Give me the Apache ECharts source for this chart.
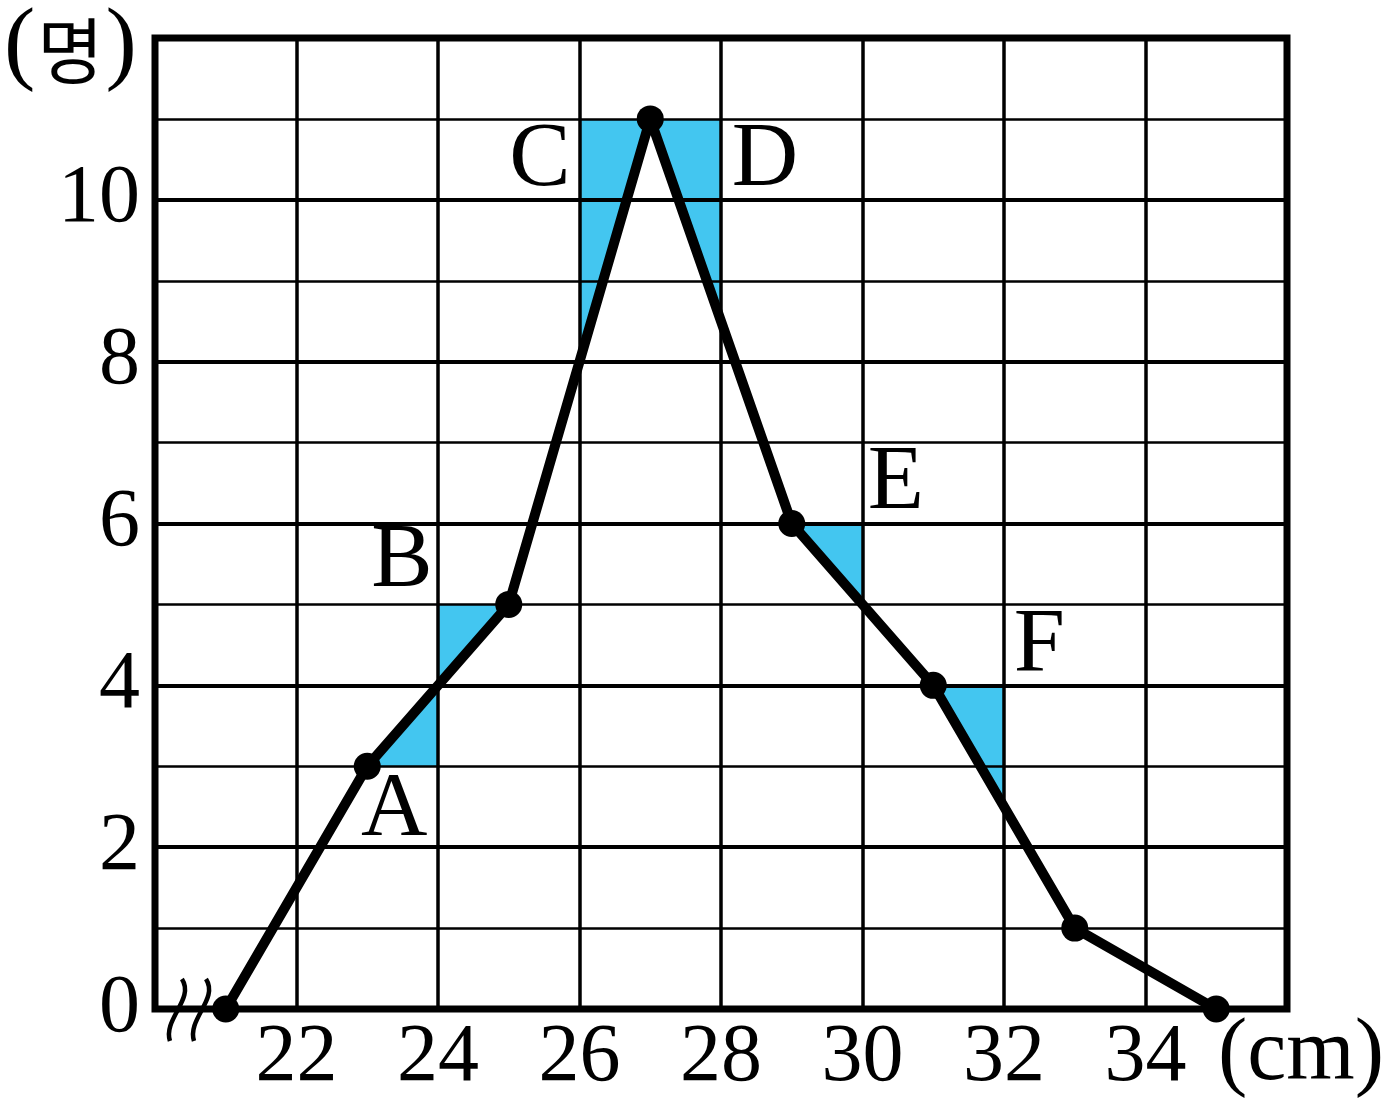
<!DOCTYPE html>
<html>
<head>
<meta charset="utf-8">
<script src="https://cdn.jsdelivr.net/npm/echarts@6/dist/echarts.min.js"></script>
<style>
html,body{margin:0;padding:0;background:#fff;}
#chart{width:1393px;height:1113px;}
</style>
</head>
<body>
<div id="chart"></div>
<script>
// ---- data ----
const xMin = 20, xMax = 36, yMin = 0, yMax = 12;
const sizes = [21, 23, 25, 27, 29, 31, 33, 35];   // class midpoints (cm)
const counts = [0, 3, 5, 11, 6, 4, 1, 0];          // frequency (명)
const xTickLabels = [22, 24, 26, 28, 30, 32, 34];
const yTickLabels = [0, 2, 4, 6, 8, 10];
// shaded triangles (data coordinates)
const shadeA = [[23, 3], [24, 3], [24, 4]];
const shadeB = [[24, 4], [24, 5], [25, 5]];
const shadeC = [[26, 8], [26, 11], [27, 11]];
const shadeD = [[27, 11], [28, 11], [28, 8.5]];
const shadeE = [[29, 6], [30, 6], [30, 5]];
const shadeF = [[31, 4], [32, 4], [32, 2.5]];
const shades = [shadeA, shadeB, shadeC, shadeD, shadeE, shadeF];
// letter annotations (data coordinates)
const letterNames = ['A', 'B', 'C', 'D', 'E', 'F'];
const letterX = [23.38, 23.49, 25.44, 28.62, 30.47, 32.5];
const letterY = [2.45, 5.52, 10.48, 10.48, 6.49, 4.48];
// axis break mark positions
const breakX = [20.31, 20.65];

const serif = '"Liberation Serif", "DejaVu Serif", serif';
const chart = echarts.init(document.getElementById('chart'));

const option = {
  backgroundColor: '#fff',
  animation: false,
  grid: {
    left: 155, right: 106, top: 38, bottom: 104,
    show: true, borderColor: '#000', borderWidth: 7, backgroundColor: 'transparent'
  },
  xAxis: {
    type: 'value', min: xMin, max: xMax, interval: 2, z: 3,
    axisLine: { show: false }, axisTick: { show: false },
    axisLabel: {
      show: true, margin: 8, fontSize: 82, fontFamily: serif, color: '#000',
      formatter: v => xTickLabels.includes(v) ? String(v) : ''
    },
    splitLine: { show: true, lineStyle: { color: '#000', width: 3.5 } }
  },
  yAxis: {
    type: 'value', min: yMin, max: yMax, interval: 2, z: 3,
    axisLine: { show: false }, axisTick: { show: false },
    minorTick: { show: false, splitNumber: 2 },
    minorSplitLine: { show: true, lineStyle: { color: '#000', width: 2.5 } },
    axisLabel: {
      show: true, margin: 15, fontSize: 82, fontFamily: serif, color: '#000',
      formatter: v => yTickLabels.includes(v) ? String(v) : ''
    },
    splitLine: { show: true, lineStyle: { color: '#000', width: 4 } }
  },
  graphic: [
    {
      type: 'text', left: 4, top: 0, z: 20,
      style: {
        text: '{p|(}{k|명}{p|)}',
        rich: {
          p: { fontSize: 94, fontFamily: serif, fill: '#000' },
          k: { fontSize: 72, fontFamily: '"Noto Sans CJK KR"', fill: '#000', padding: [8, 2, 0, 2] }
        }
      }
    },
    {
      type: 'text', left: 1218, top: 1012, z: 20,
      style: { text: '(cm)', fontSize: 88, fontFamily: serif, fill: '#000' }
    }
  ],
  series: [
    {
      type: 'custom', z: 1, silent: true,
      data: shades.map((s, i) => [i]),
      renderItem: (params, api) => {
        const tri = shades[params.dataIndex];
        return {
          type: 'polygon',
          shape: { points: tri.map(p => api.coord(p)) },
          style: { fill: '#43C6F0' }
        };
      }
    },
    {
      type: 'line', z: 10,
      data: sizes.map((s, i) => [s, counts[i]]),
      symbol: 'circle', symbolSize: 27,
      lineStyle: { color: '#000', width: 10 },
      itemStyle: { color: '#000' }
    },
    {
      type: 'scatter', z: 12, symbolSize: 1,
      itemStyle: { opacity: 1, color: 'rgba(0,0,0,0)' },
      data: letterNames.map((n, i) => ({ name: n, value: [letterX[i], letterY[i]] })),
      label: {
        show: true, position: 'inside', formatter: p => p.name, opacity: 1,
        fontSize: 92, fontFamily: serif, color: '#000'
      }
    },
    {
      type: 'custom', z: 12, silent: true,
      data: breakX.map(x => [x, 0]),
      renderItem: (params, api) => {
        const c = api.coord([api.value(0), api.value(1)]);
        return {
          type: 'bezierCurve',
          shape: {
            x1: c[0] + 5, y1: c[1] - 30,
            cpx1: c[0] + 18, cpy1: c[1] - 10,
            cpx2: c[0] - 14, cpy2: c[1] + 10,
            x2: c[0] - 7, y2: c[1] + 32
          },
          style: { stroke: '#000', lineWidth: 4.5, fill: 'none' }
        };
      }
    }
  ]
};
chart.setOption(option);
</script>
</body>
</html>
